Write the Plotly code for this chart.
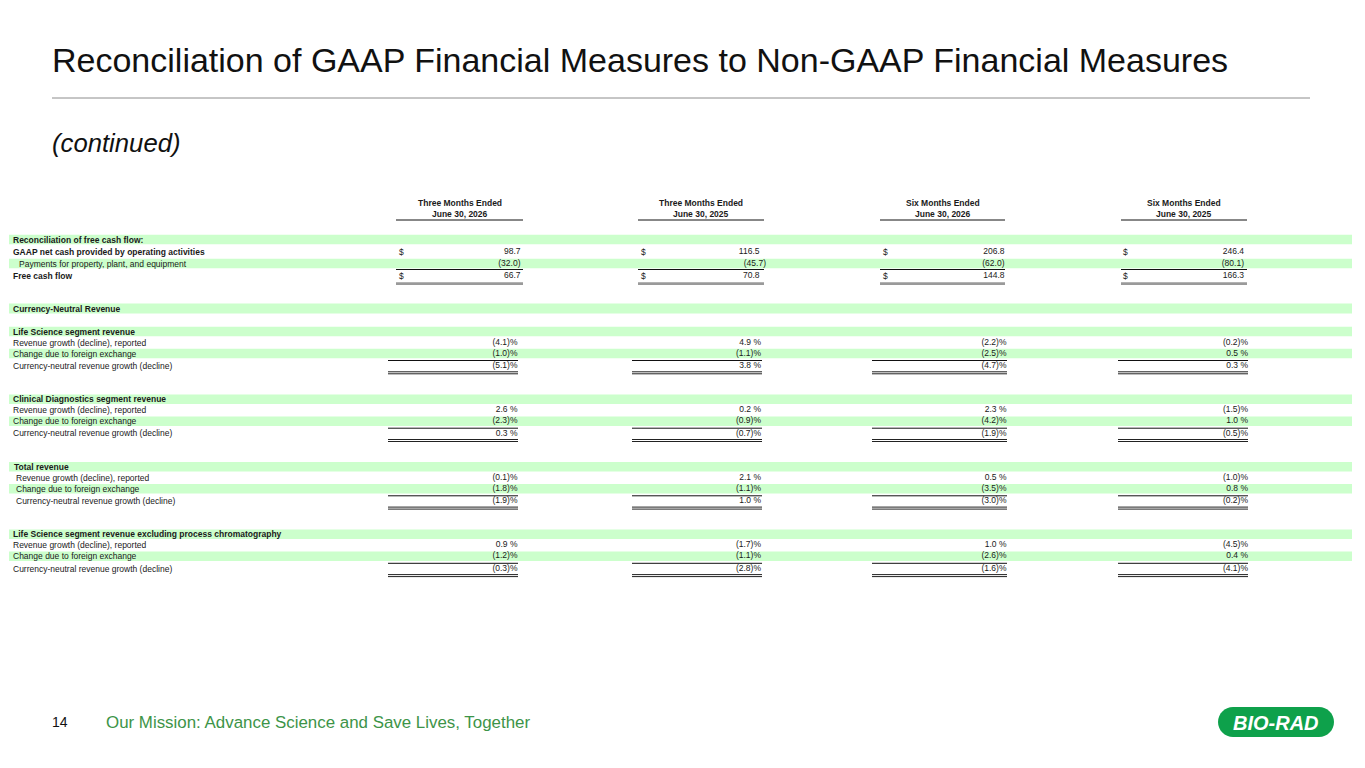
import plotly.graph_objects as go

# ---------------- data ----------------
period_titles = ["Three Months Ended", "Three Months Ended", "Six Months Ended", "Six Months Ended"]
period_dates = ["June 30, 2026", "June 30, 2025", "June 30, 2026", "June 30, 2025"]

fcf_labels = ["GAAP net cash provided by operating activities",
              "Payments for property, plant, and equipment",
              "Free cash flow"]
gaap_ocf = [98.7, 116.5, 206.8, 246.4]
capex = [-32.0, -45.7, -62.0, -80.1]
free_cash_flow = [66.7, 70.8, 144.8, 166.3]

section_names = ["Life Science segment revenue",
                 "Clinical Diagnostics segment revenue",
                 "Total revenue",
                 "Life Science segment revenue excluding process chromatography"]
row_labels = ["Revenue growth (decline), reported",
              "Change due to foreign exchange",
              "Currency-neutral revenue growth (decline)"]
ls_reported = [-4.1, 4.9, -2.2, -0.2]
ls_fx = [-1.0, -1.1, -2.5, 0.5]
ls_cn = [-5.1, 3.8, -4.7, 0.3]
cd_reported = [2.6, 0.2, 2.3, -1.5]
cd_fx = [-2.3, -0.9, -4.2, 1.0]
cd_cn = [0.3, -0.7, -1.9, -0.5]
tot_reported = [-0.1, 2.1, 0.5, -1.0]
tot_fx = [-1.8, -1.1, -3.5, 0.8]
tot_cn = [-1.9, 1.0, -3.0, -0.2]
lse_reported = [0.9, -1.7, 1.0, -4.5]
lse_fx = [-1.2, -1.1, -2.6, 0.4]
lse_cn = [-0.3, -2.8, -1.6, -4.1]

sections = [
    (ls_reported, ls_fx, ls_cn),
    (cd_reported, cd_fx, cd_cn),
    (tot_reported, tot_fx, tot_cn),
    (lse_reported, lse_fx, lse_cn),
]

# ---------------- layout geometry ----------------
W, H = 1365, 768
PAGE_OFF = 8  # default body margin of the html page
FONT = "Liberation Sans, Arial, sans-serif"
GREEN_BAND = "#ccffcc"
TXT = "#1a1a1a"
FS = 8.5

# money columns: (line_x0, line_x1, dollar_x, right_x, paren_hang)
money_cols = [(396, 523, 399, 520.5, 0), (638, 764, 641, 759.5, 6.5),
              (880, 1005, 883, 1004.5, 0), (1121, 1247, 1123, 1244, 0)]
# percent columns: (line_x0, line_x1, right_x)
pct_cols = [(388, 518, 517.5), (632, 762, 761), (872, 1007, 1006.5), (1118, 1248, 1248)]

band_x0, band_x1 = 9, 1352

fig = go.Figure()
shapes = []
annotations = []


def band(yc, h=9.5):
    shapes.append(dict(type="rect", xref="x", yref="y", x0=band_x0, x1=band_x1,
                       y0=yc - h / 2, y1=yc + h / 2, fillcolor=GREEN_BAND,
                       line=dict(width=0), layer="below"))


def hline(x0, x1, y, color="#111", w=1):
    shapes.append(dict(type="line", xref="x", yref="y", x0=x0, x1=x1, y0=y, y1=y,
                       line=dict(color=color, width=w)))


def label(x, y, text, bold=False, size=FS, color=TXT, anchor="left", italic=False, family=FONT):
    if anchor == "left":
        x -= 2  # compensate annotation padding
    annotations.append(dict(x=x, y=y, xref="x", yref="y", text=text, showarrow=False,
                            xanchor=anchor, yanchor="middle",
                            font=dict(family=family, size=size, color=color,
                                      weight="bold" if bold else "normal",
                                      style="italic" if italic else "normal")))


def fmt_money(v):
    return "(%.1f)" % abs(v) if v < 0 else "%.1f" % v


def fmt_pct(v):
    return "(%.1f)%%" % abs(v) if v < 0 else "%.1f %%" % v


# ---------------- title area ----------------
label(52, 60, "Reconciliation of GAAP Financial Measures to Non-GAAP Financial Measures",
      size=34, color="#111")
hline(52, 1310, 98, color="#8c8c8c", w=1)
label(52, 143, "(continued)", size=25.7, color="#111", italic=True)

# ---------------- column headers ----------------
for i, (x0, x1, dx, rx, hang) in enumerate(money_cols):
    cx = (x0 + x1) / 2
    label(cx, 202.5, period_titles[i], bold=True, anchor="center")
    label(cx, 213.5, period_dates[i], bold=True, anchor="center")
    hline(x0, x1, 220)

# ---------------- free cash flow ----------------
y_hdr, y_gaap, y_capex, y_fcf = 239.5, 252, 263.5, 276
band(y_hdr)
band(y_capex)
label(13, y_hdr, "Reconciliation of free cash flow:", bold=True)
label(13, y_gaap, fcf_labels[0], bold=True)
label(19, y_capex, fcf_labels[1])
label(13, y_fcf, fcf_labels[2], bold=True)

money_rows = [(y_gaap, gaap_ocf, True), (y_capex, capex, False), (y_fcf, free_cash_flow, True)]
for ci, (x0, x1, dx, rx, hang) in enumerate(money_cols):
    xs, ys, ts = [], [], []
    for (yy, vals, dollar) in money_rows:
        v = vals[ci]
        xs.append(rx + (hang if v < 0 else 0))
        ys.append(yy)
        ts.append(fmt_money(v))
        if dollar:
            label(dx, yy, "$")
    fig.add_trace(go.Scatter(x=xs, y=ys, text=ts, mode="text", textposition="middle left",
                             textfont=dict(family=FONT, size=FS, color=TXT),
                             hoverinfo="skip", showlegend=False, cliponaxis=False))
    hline(x0, x1, 269.5)
    hline(x0, x1, 283.6, color="#9a9a9a", w=2.8)

# ---------------- currency-neutral revenue ----------------
band(308.5, 10)
label(13, 308.5, "Currency-Neutral Revenue", bold=True)

sec_y = [331.5, 399.2, 466.8, 534.3]
for si, (name, vals3) in enumerate(zip(section_names, sections)):
    y0 = sec_y[si]
    lx = 15.5 if si == 2 else 13
    band(y0)
    band(y0 + 22)
    label(13 if si != 2 else 14, y0, name, bold=True)
    ys_rows = [y0 + 11, y0 + 22, y0 + 34.2]
    for ri in range(3):
        label(lx, ys_rows[ri], row_labels[ri])
    for ci, (x0, x1, rx) in enumerate(pct_cols):
        fig.add_trace(go.Scatter(x=[rx] * 3, y=ys_rows,
                                 text=[fmt_pct(vals3[r][ci]) for r in range(3)],
                                 mode="text", textposition="middle left",
                                 textfont=dict(family=FONT, size=FS, color=TXT),
                                 hoverinfo="skip", showlegend=False, cliponaxis=False))
        hline(x0, x1, y0 + 29)
        hline(x0, x1, y0 + 40.3, color="#222")
        hline(x0, x1, y0 + 42.3, color="#222")

# ---------------- footer ----------------
label(52, 722, "14", size=14, color="#111")
label(106, 722, "Our Mission: Advance Science and Save Lives, Together", size=16.9, color="#3d9448")

# logo pill
px0, px1, py0, py1 = 1218, 1334, 707, 737
r = (py1 - py0) / 2
k = 0.5523 * r
cy = (py0 + py1) / 2
path = (f"M {px0 + r},{py0} L {px1 - r},{py0} "
        f"C {px1 - r + k},{py0} {px1},{cy - k} {px1},{cy} "
        f"C {px1},{cy + k} {px1 - r + k},{py1} {px1 - r},{py1} "
        f"L {px0 + r},{py1} "
        f"C {px0 + r - k},{py1} {px0},{cy + k} {px0},{cy} "
        f"C {px0},{cy - k} {px0 + r - k},{py0} {px0 + r},{py0} Z")
shapes.append(dict(type="path", xref="x", yref="y", path=path, fillcolor="#0ea14b",
                   line=dict(width=0)))
label((px0 + px1) / 2, cy + 0.5, "BIO-RAD", bold=True, italic=True, size=20, color="white",
      anchor="center")

fig.update_layout(
    width=W, height=H,
    margin=dict(l=0, r=0, t=0, b=0),
    paper_bgcolor="white", plot_bgcolor="white",
    xaxis=dict(range=[PAGE_OFF, W + PAGE_OFF], visible=False, fixedrange=True),
    yaxis=dict(range=[H + PAGE_OFF, PAGE_OFF], visible=False, fixedrange=True),
    shapes=shapes, annotations=annotations,
    showlegend=False,
)

fig.write_html("out.html", config={"displayModeBar": False})
